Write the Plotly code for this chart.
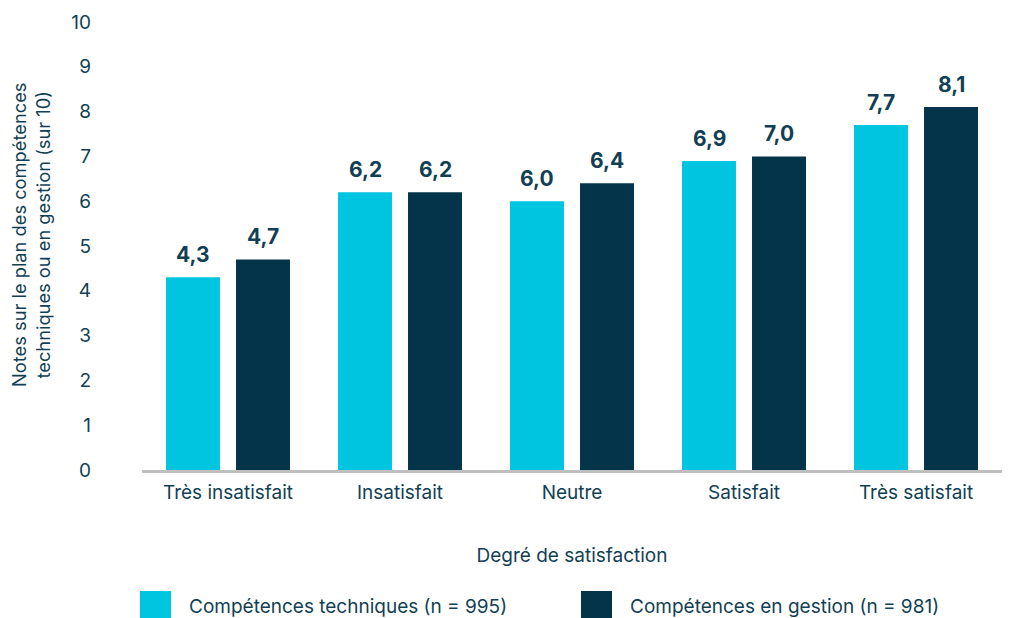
import plotly.graph_objects as go

categories = ["Très insatisfait", "Insatisfait", "Neutre", "Satisfait", "Très satisfait"]
tech_values = [4.3, 6.2, 6.0, 6.9, 7.7]
gest_values = [4.7, 6.2, 6.4, 7.0, 8.1]
series_names = ["Compétences techniques (n = 995)", "Compétences en gestion (n = 981)"]
y_ticks = [0, 1, 2, 3, 4, 5, 6, 7, 8, 9, 10]
y_title = "Notes sur le plan des compétences<br>techniques ou en gestion (sur 10)"
x_title = "Degré de satisfaction"

CYAN = "#00C5E1"
DARK = "#033449"
TEXT = "#123F54"
FONT = "Inter"
FS = 19

def fmt(v):
    return f"{v:.1f}".replace(".", ",")

fig = go.Figure()
series = [(series_names[0], tech_values, CYAN, -35), (series_names[1], gest_values, DARK, 35)]
for name, vals, col, dx in series:
    fig.add_trace(go.Bar(
        x=categories, y=vals, name=name, marker_color=col, marker_line_width=0,
        showlegend=False,
    ))
    # value labels above bars
    for c, v in zip(categories, vals):
        fig.add_annotation(x=c, y=v, text=fmt(v), showarrow=False,
                           xanchor="center", yanchor="bottom", xshift=dx, yshift=8,
                           font=dict(family=FONT, size=21, color=TEXT, weight="bold"))

fig.update_layout(
    width=1011, height=618,
    margin=dict(l=142, r=9, t=22, b=148),
    paper_bgcolor="white", plot_bgcolor="white",
    barmode="group", bargap=0.186, bargroupgap=0.229,
    font=dict(family=FONT, size=FS, color=TEXT),
    xaxis=dict(
        showgrid=False, showline=True, linecolor="#BFBFBF", linewidth=2.5,
        ticks="", tickfont=dict(size=FS, color=TEXT), automargin=False, ticklabelstandoff=3,
        title=dict(text=x_title, font=dict(size=FS, color=TEXT), standoff=47),
    ),
    yaxis=dict(
        range=[0, 10], tickvals=y_ticks, showgrid=False, zeroline=False, showline=False,
        ticks="", tickfont=dict(size=FS, color=TEXT), ticklabelstandoff=50, automargin=False,
    ),
)

# y-axis title as rotated annotation for precise placement
fig.add_annotation(xref="paper", yref="paper", x=(31 - 142) / 860, y=(470 - 235) / 448,
                   text=y_title, textangle=-90, showarrow=False,
                   xanchor="center", yanchor="middle",
                   font=dict(size=18.3, color=TEXT))

# custom legend (large square swatches)
legend_items = [(series_names[0], CYAN, 140), (series_names[1], DARK, 581)]
for name, col, px in legend_items:
    x0 = (px - 142) / 860
    x1 = (px + 31 - 142) / 860
    fig.add_shape(type="rect", xref="paper", yref="paper",
                  x0=x0, x1=x1, y0=(470 - 618) / 448, y1=(470 - 591) / 448,
                  fillcolor=col, line_width=0)
    fig.add_annotation(xref="paper", yref="paper", x=(px + 47 - 142) / 860, y=(470 - 606) / 448,
                       text=name, showarrow=False, xanchor="left", yanchor="middle",
                       font=dict(size=FS, color=TEXT))

fig.write_html("out.html", config={"displayModeBar": False},
               post_script="document.body.style.margin='0';document.body.style.overflow='hidden';")
